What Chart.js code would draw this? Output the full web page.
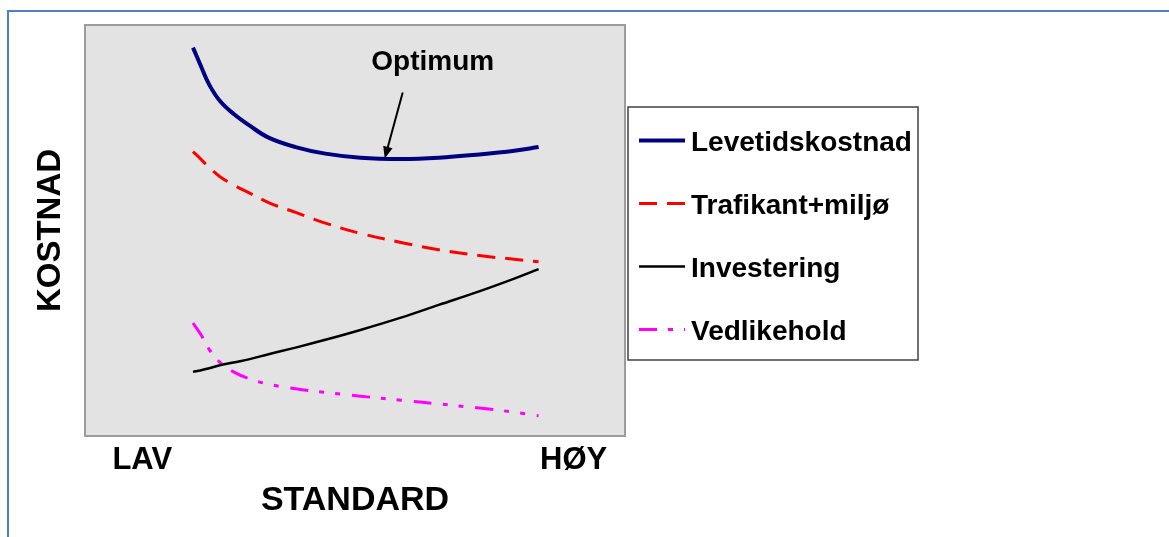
<!DOCTYPE html>
<html lang="no">
<head>
<meta charset="UTF-8">
<title>Kostnad mot standard</title>
<script src="https://cdn.jsdelivr.net/npm/chart.js"></script>
<style>
  html, body { margin: 0; padding: 0; background: #fff; }
  .frame { position: relative; width: 1169px; height: 537px; overflow: hidden; }
  .edge { position: absolute; left: 7px; top: 10px; width: 1300px; height: 700px;
          border-left: 2px solid #4f81bd; border-top: 2px solid #4f81bd; }
  canvas { position: absolute; left: 0; top: 0; }
</style>
</head>
<body>
<div class="frame">
  <div class="edge"></div>
  <canvas id="costChart" width="1169" height="537"></canvas>
</div>
<script>
// standard (x) from LAV to HØY, cost (y) in relative units 0-100
const standard        = [20, 21.5, 23, 25, 27.5, 30.5, 34, 39, 44.5, 51, 58.5, 65.5, 73, 79.5, 84];
const levetidskostnad = [94.5, 89.9, 85.5, 81.5, 78.4, 75.5, 72.6, 70.3, 68.7, 67.7, 67.4, 67.7, 68.5, 69.4, 70.3];
const trafikantMiljo  = [69.2, 67.3, 65.3, 63.1, 61.1, 59.1, 56.8, 54.4, 51.8, 49.3, 47.1, 45.3, 43.9, 43.0, 42.4];
const investering     = [15.6, 16.0, 16.5, 17.2, 17.9, 18.7, 19.9, 21.5, 23.4, 25.8, 28.8, 31.9, 35.2, 38.3, 40.6];
const vedlikehold     = [27.5, 24.6, 21.1, 17.9, 15.6, 13.9, 12.6, 11.5, 10.6, 9.7, 8.7, 7.8, 6.8, 5.8, 4.9];

const xTickPos    = [10.6, 90.5];
const xTickLabels = ['LAV', 'HØY'];

const optimum = { x: 55.5, y: 67.5, text: 'Optimum' };

const FONT = 'Liberation Sans, Arial, Helvetica, sans-serif';

function toPoints(ys) {
    return standard.map((x, i) => ({ x: x, y: ys[i] }));
}

// grey plot background with a thin border
const plotBackground = {
    id: 'plotBackground',
    beforeDraw(chart) {
        const { ctx, chartArea: a } = chart;
        ctx.save();
        ctx.fillStyle = '#e3e3e3';
        ctx.fillRect(a.left, a.top, a.width, a.height);
        ctx.strokeStyle = '#9c9c9c';
        ctx.lineWidth = 2;
        ctx.strokeRect(a.left, a.top, a.width, a.height);
        ctx.restore();
    }
};

// arrow + "Optimum" label pointing at the minimum of the total cost
const optimumMarker = {
    id: 'optimumMarker',
    afterDatasetsDraw(chart) {
        const { ctx, scales } = chart;
        const tipX = scales.x.getPixelForValue(optimum.x);
        const tipY = scales.y.getPixelForValue(optimum.y);
        const tailX = tipX + 18, tailY = tipY - 66;
        const ang = Math.atan2(tipY - tailY, tipX - tailX);
        const head = 13, spread = 0.38;
        ctx.save();
        ctx.strokeStyle = '#000';
        ctx.fillStyle = '#000';
        ctx.lineWidth = 2;
        ctx.beginPath();
        ctx.moveTo(tailX, tailY);
        ctx.lineTo(tipX - Math.cos(ang) * head * 0.8, tipY - Math.sin(ang) * head * 0.8);
        ctx.stroke();
        ctx.beginPath();
        ctx.moveTo(tipX, tipY);
        ctx.lineTo(tipX - head * Math.cos(ang - spread), tipY - head * Math.sin(ang - spread));
        ctx.lineTo(tipX - head * Math.cos(ang + spread), tipY - head * Math.sin(ang + spread));
        ctx.closePath();
        ctx.fill();
        ctx.font = 'bold 28px ' + FONT;
        ctx.textAlign = 'center';
        ctx.textBaseline = 'alphabetic';
        ctx.fillText(optimum.text, tipX + 48, tipY - 89);
        ctx.restore();
    }
};

// boxed legend to the right of the plot
const boxLegend = {
    id: 'boxLegend',
    afterDraw(chart) {
        const { ctx } = chart;
        const left = 628, top = 107, width = 290, height = 253;
        const firstRow = 140.5, rowStep = 63;
        ctx.save();
        ctx.fillStyle = '#fff';
        ctx.fillRect(left, top, width, height);
        ctx.strokeStyle = '#404040';
        ctx.lineWidth = 1.5;
        ctx.strokeRect(left, top, width, height);
        ctx.font = 'bold 28px ' + FONT;
        ctx.textBaseline = 'alphabetic';
        chart.data.datasets.forEach((ds, i) => {
            const y = firstRow + i * rowStep;
            ctx.strokeStyle = ds.borderColor;
            ctx.lineWidth = ds.borderWidth;
            ctx.setLineDash(ds.borderDash || []);
            ctx.beginPath();
            ctx.moveTo(639, y);
            ctx.lineTo(685, y);
            ctx.stroke();
            ctx.setLineDash([]);
            ctx.fillStyle = '#000';
            ctx.fillText(ds.label, 691, y + 10);
        });
        ctx.restore();
    }
};

new Chart(document.getElementById('costChart'), {
    type: 'line',
    data: {
        datasets: [
            {
                label: 'Levetidskostnad',
                data: toPoints(levetidskostnad),
                borderColor: '#000080',
                borderWidth: 4
            },
            {
                label: 'Trafikant+miljø',
                data: toPoints(trafikantMiljo),
                borderColor: '#ff0000',
                borderWidth: 3,
                borderDash: [18, 10]
            },
            {
                label: 'Investering',
                data: toPoints(investering),
                borderColor: '#000000',
                borderWidth: 2.5
            },
            {
                label: 'Vedlikehold',
                data: toPoints(vedlikehold),
                borderColor: '#ff00ff',
                borderWidth: 3,
                borderDash: [18, 11, 5, 11, 5, 12]
            }
        ]
    },
    options: {
        responsive: false,
        animation: false,
        layout: {
            padding: { left: 34, right: 544, top: 25, bottom: 19 }
        },
        elements: {
            point: { radius: 0, hoverRadius: 0 },
            line: { tension: 0.4, fill: false }
        },
        plugins: {
            legend: { display: false },
            tooltip: { enabled: false }
        },
        scales: {
            x: {
                type: 'linear',
                min: 0,
                max: 100,
                grid: { display: false, drawTicks: false },
                border: { display: false },
                afterBuildTicks: scale => {
                    scale.ticks = xTickPos.map(v => ({ value: v }));
                },
                ticks: {
                    autoSkip: false,
                    maxRotation: 0,
                    padding: 8.5,
                    color: '#000',
                    font: { family: FONT, size: 31, weight: 'bold', lineHeight: 1 },
                    callback: (value, index) => xTickLabels[index]
                },
                title: {
                    display: true,
                    text: 'STANDARD',
                    color: '#000',
                    padding: 0,
                    font: { family: FONT, size: 34, weight: 'bold', lineHeight: 1 }
                }
            },
            y: {
                min: 0,
                max: 100,
                grid: { display: false, drawTicks: false },
                border: { display: false },
                ticks: { display: false },
                title: {
                    display: true,
                    text: 'KOSTNAD',
                    color: '#000',
                    padding: { top: 0, bottom: 18 },
                    font: { family: FONT, size: 33, weight: 'bold', lineHeight: 1 }
                }
            }
        }
    },
    plugins: [plotBackground, optimumMarker, boxLegend]
});
</script>
</body>
</html>
